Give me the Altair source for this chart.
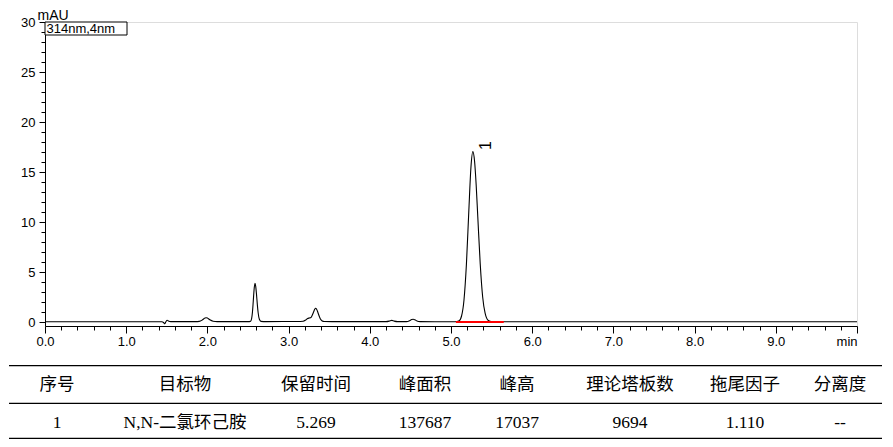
import altair as alt
import pandas as pd

# ---------------- chromatogram ----------------
T = [0.0, 0.5, 1.0, 1.44, 1.46, 1.475, 1.49, 1.505, 1.52, 1.55, 1.85,
     1.90, 1.94, 1.97, 1.985, 2.00, 2.03, 2.07, 2.12,
     2.50, 2.53, 2.545, 2.555, 2.565, 2.575, 2.586, 2.595, 2.605, 2.615, 2.625, 2.64, 2.66, 2.72,
     3.10, 3.18, 3.21, 3.235, 3.255, 3.275, 3.295, 3.31, 3.322, 3.333, 3.345, 3.36, 3.375, 3.39, 3.41, 3.44, 3.60,
     4.20, 4.24, 4.27, 4.30, 4.34,
     4.45, 4.49, 4.515, 4.535, 4.555, 4.58, 4.62,
     4.80, 5.05, 5.10, 5.13, 5.16, 5.19, 5.22, 5.245, 5.269, 5.29, 5.31, 5.33, 5.36, 5.39, 5.42, 5.46, 5.50, 5.60,
     6.0, 7.0, 8.0, 9.0, 10.0]
A = [0.03, 0.03, 0.03, 0.03, -0.05, -0.17, 0.05, 0.18, 0.10, 0.04, 0.04,
     0.06, 0.22, 0.40, 0.43, 0.40, 0.22, 0.08, 0.04,
     0.04, 0.06, 0.37, 1.0, 2.1, 3.25, 3.87, 3.57, 2.74, 1.74, 0.93, 0.27, 0.06, 0.04,
     0.05, 0.08, 0.20, 0.35, 0.40, 0.45, 0.75, 1.05, 1.28, 1.37, 1.28, 0.98, 0.62, 0.33, 0.13, 0.05, 0.04,
     0.04, 0.09, 0.16, 0.09, 0.04,
     0.04, 0.13, 0.24, 0.27, 0.22, 0.11, 0.04,
     0.03, 0.03, 0.12, 0.6, 2.2, 5.8, 11.2, 15.4, 17.04, 16.1, 13.7, 10.5, 5.8, 2.5, 0.88, 0.15, 0.05, 0.03,
     0.03, 0.03, 0.03, 0.03, 0.03]

# integration baseline of peak 1
BASE_T = [5.06, 5.65]
BASE_A = [0.0, 0.0]

# peak label
PEAK_T = [5.269]
PEAK_A = [17.037]
PEAK_LABEL = ["1"]

CHANNEL = "314nm,4nm"
X_TICKS = [round(i * 0.2, 1) for i in range(51)]
Y_TICKS = list(range(0, 31))

# ---------------- result table ----------------
HEADERS = ["序号", "目标物", "保留时间", "峰面积", "峰高", "理论塔板数", "拖尾因子", "分离度"]
ROW1 = ["1", "N,N-二氯环己胺", "5.269", "137687", "17037", "9694", "1.110", "--"]

# layout (pixels, relative to plot origin)
COL_X = [12, 140, 271, 380, 472, 585, 700, 795]
ROW_Y = [363, 400.5]
LINE_Y = [343.7, 381.3, 416.3]

SANS = "Liberation Sans"
CJK = "Noto Sans CJK SC"
SERIF = "Liberation Serif, Noto Sans CJK SC"

chrom = pd.DataFrame({"t": T, "a": A})
base = pd.DataFrame({"t": BASE_T, "a": BASE_A})
peak = pd.DataFrame({"t": PEAK_T, "a": PEAK_A, "lab": PEAK_LABEL})

int_test = "abs(datum.value - round(datum.value)) < 0.001"
five_test = "abs(datum.value / 5 - round(datum.value / 5)) < 0.001"

x_axis = alt.Axis(
    values=X_TICKS, grid=False, title=None, orient="bottom",
    labelExpr=f"{int_test} ? (datum.value >= 10 ? 'min' : format(datum.value, '.1f')) : ''",
    tickSize={"condition": {"test": int_test, "value": 7}, "value": 4},
    labelAlign={"condition": {"test": "datum.value >= 10", "value": "right"}, "value": "center"},
    labelFlush=False, labelOverlap=False, labelBound=False,
    labelPadding=2, labelBaseline="top",
    labelFont=SANS, labelFontSize=13, labelColor="black",
    domainColor="black", tickColor="black",
)
y_axis = alt.Axis(
    values=Y_TICKS, grid=False, orient="left",
    title="mAU", titleAngle=0, titleAlign="left", titleBaseline="alphabetic",
    titleX=-8, titleY=-3, titleFont=SANS, titleFontSize=14, titleFontWeight="normal",
    titleColor="black",
    labelExpr=f"{five_test} ? format(datum.value, 'd') : ''",
    tickSize={"condition": {"test": five_test, "value": 6}, "value": 4},
    labelFlush=False, labelOverlap=False, labelBound=False,
    labelPadding=4, labelFont=SANS, labelFontSize=13, labelColor="black",
    domainColor="black", tickColor="black",
)

xs = alt.Scale(domain=[0, 10], nice=False, zero=False)
ys = alt.Scale(domain=[-0.4, 30], nice=False, zero=False)
X_ENC = alt.X("t:Q", scale=xs, axis=x_axis)
Y_ENC = alt.Y("a:Q", scale=ys, axis=y_axis)

line = alt.Chart(chrom).mark_line(color="black", strokeWidth=1.1, interpolate="monotone").encode(
    x=X_ENC, y=Y_ENC,
)
red = alt.Chart(base).mark_line(color="#ff0000", strokeWidth=2).encode(x=X_ENC, y=Y_ENC)
plabel = alt.Chart(peak).mark_text(
    angle=270, align="center", baseline="middle", dx=6, dy=13,
    font=SANS, fontSize=16, color="black"
).encode(x=X_ENC, y=Y_ENC, text="lab:N")

box_df = pd.DataFrame({"label": [CHANNEL]})
box = alt.Chart(box_df).mark_rect(fill="white", stroke="black", strokeWidth=1).encode(
    x=alt.value(0), x2=alt.value(82), y=alt.value(0), y2=alt.value(13)
)
box_text = alt.Chart(box_df).mark_text(
    align="left", baseline="middle", font=SANS, fontSize=13, color="black"
).encode(x=alt.value(1.5), y=alt.value(7), text="label:N")

chrom_layer = alt.layer(line, red, plabel, box, box_text)

# table layers
tab = pd.DataFrame({
    "ci": list(range(len(HEADERS))) * 2,
    "ri": [0] * len(HEADERS) + [1] * len(ROW1),
    "txt": HEADERS + ROW1,
})
tx = alt.Scale(domain=list(range(len(COL_X))), range=COL_X)
ty = alt.Scale(domain=[0, 1], range=ROW_Y)
head_text = alt.Chart(tab).transform_filter("datum.ri == 0").mark_text(
    align="center", baseline="middle", font=CJK, fontSize=17.5, color="black"
).encode(x=alt.X("ci:Q", scale=tx, axis=None), y=alt.Y("ri:Q", scale=ty, axis=None), text="txt:N")
data_text = alt.Chart(tab).transform_filter("datum.ri == 1").mark_text(
    align="center", baseline="middle", font=SERIF, fontSize=17.5, color="black"
).encode(x=alt.X("ci:Q", scale=tx, axis=None), y=alt.Y("ri:Q", scale=ty, axis=None), text="txt:N")

lines = pd.DataFrame({"li": [0, 1, 2]})
rules = alt.Chart(lines).mark_rule(color="black", strokeWidth=1.3).encode(
    x=alt.value(-36), x2=alt.value(837),
    y=alt.Y("li:Q", scale=alt.Scale(domain=[0, 1, 2], range=LINE_Y), axis=None),
)

chart = alt.layer(chrom_layer, rules, head_text, data_text).resolve_scale(
    x="independent", y="independent"
).properties(
    width=812, height=304,
    padding={"left": 37, "top": 14, "right": 28, "bottom": 113},
    autosize=alt.AutoSizeParams(type="none"),
).configure_view(stroke="black", strokeWidth=1).configure(background="white")

chart.save("out.html", embed_options={"renderer": "svg", "actions": False})
